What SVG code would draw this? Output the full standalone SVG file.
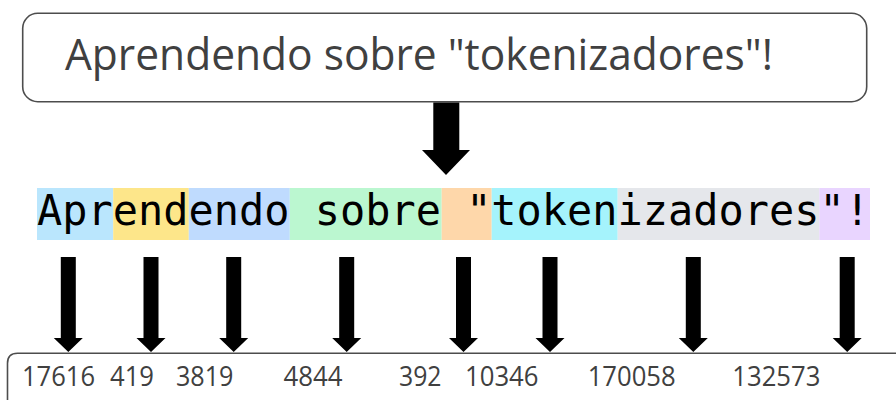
<svg xmlns="http://www.w3.org/2000/svg" width="896" height="400" viewBox="0 0 896 400">
  <style>
    .box { fill: #ffffff; stroke: #4d4d4d; stroke-width: 1.6; }
    .title { font-family: "Open Sans", "Liberation Sans", sans-serif; font-size: 43px; fill: #404040; }
    .tok { font-family: "DejaVu Sans Mono", "Liberation Mono", monospace; font-size: 41.9px; fill: #000000; }
    .id { font-family: "Open Sans", "Liberation Sans", sans-serif; font-size: 28px; fill: #404040; }
    .arrow { fill: #000000; }
  </style>
  <defs>
    <!-- small down arrow, tip at origin -->
    <path id="small-arrow" d="M -7.5 -95 H 7.5 V -14 H 14.5 L 0 0 L -14.5 -14 H -7.5 Z"/>
  </defs>

  <!-- input sentence -->
  <g id="input">
    <rect class="box" x="22.7" y="13.3" width="844" height="88.4" rx="15" ry="15"/>
    <text class="title" x="65" y="69.5" textLength="708" lengthAdjust="spacingAndGlyphs">Aprendendo sobre "tokenizadores"!</text>
  </g>

  <!-- tokenized sentence -->
  <g id="tokens">
    <rect x="37" y="188" width="76.2" height="52" fill="#bae6fd"/>
    <rect x="113.2" y="188" width="75.6" height="52" fill="#fde68a"/>
    <rect x="188.8" y="188" width="101" height="52" fill="#bfdbfe"/>
    <rect x="289.8" y="188" width="151.9" height="52" fill="#bbf7d0"/>
    <rect x="441.7" y="188" width="50" height="52" fill="#fed7aa"/>
    <rect x="491.7" y="188" width="126" height="52" fill="#a5f3fc"/>
    <rect x="617.7" y="188" width="201.6" height="52" fill="#e5e7eb"/>
    <rect x="819.3" y="188" width="50.7" height="52" fill="#e9d5ff"/>
    <text class="tok" x="37" y="225" textLength="833" lengthAdjust="spacing" xml:space="preserve">Aprendendo sobre "tokenizadores"!</text>
  </g>

  <!-- token ids -->
  <g id="ids">
    <path class="box" d="M 7.5 400 V 363.3 Q 7.5 353.3 17.5 353.3 H 900"/>
    <text class="id" x="22" y="385.5" textLength="73" lengthAdjust="spacingAndGlyphs">17616</text>
    <text class="id" x="110" y="385.5" textLength="44" lengthAdjust="spacingAndGlyphs">419</text>
    <text class="id" x="176" y="385.5" textLength="57.5" lengthAdjust="spacingAndGlyphs">3819</text>
    <text class="id" x="283.5" y="385.5" textLength="59" lengthAdjust="spacingAndGlyphs">4844</text>
    <text class="id" x="399" y="385.5" textLength="42.5" lengthAdjust="spacingAndGlyphs">392</text>
    <text class="id" x="465" y="385.5" textLength="73.5" lengthAdjust="spacingAndGlyphs">10346</text>
    <text class="id" x="587.7" y="385.5" textLength="88" lengthAdjust="spacingAndGlyphs">170058</text>
    <text class="id" x="732.3" y="385.5" textLength="88" lengthAdjust="spacingAndGlyphs">132573</text>
  </g>

  <!-- connectors -->
  <g id="connectors" class="arrow">
    <path d="M 433.3 102.5 H 459.3 V 150 H 470 L 446 175 L 422 150 H 433.3 Z"/>
    <use href="#small-arrow" x="68.3" y="352"/>
    <use href="#small-arrow" x="151" y="352"/>
    <use href="#small-arrow" x="233.7" y="352"/>
    <use href="#small-arrow" x="346.7" y="352"/>
    <use href="#small-arrow" x="463.5" y="352"/>
    <use href="#small-arrow" x="550" y="352"/>
    <use href="#small-arrow" x="693.3" y="352"/>
    <use href="#small-arrow" x="847.2" y="352"/>
  </g>
</svg>
